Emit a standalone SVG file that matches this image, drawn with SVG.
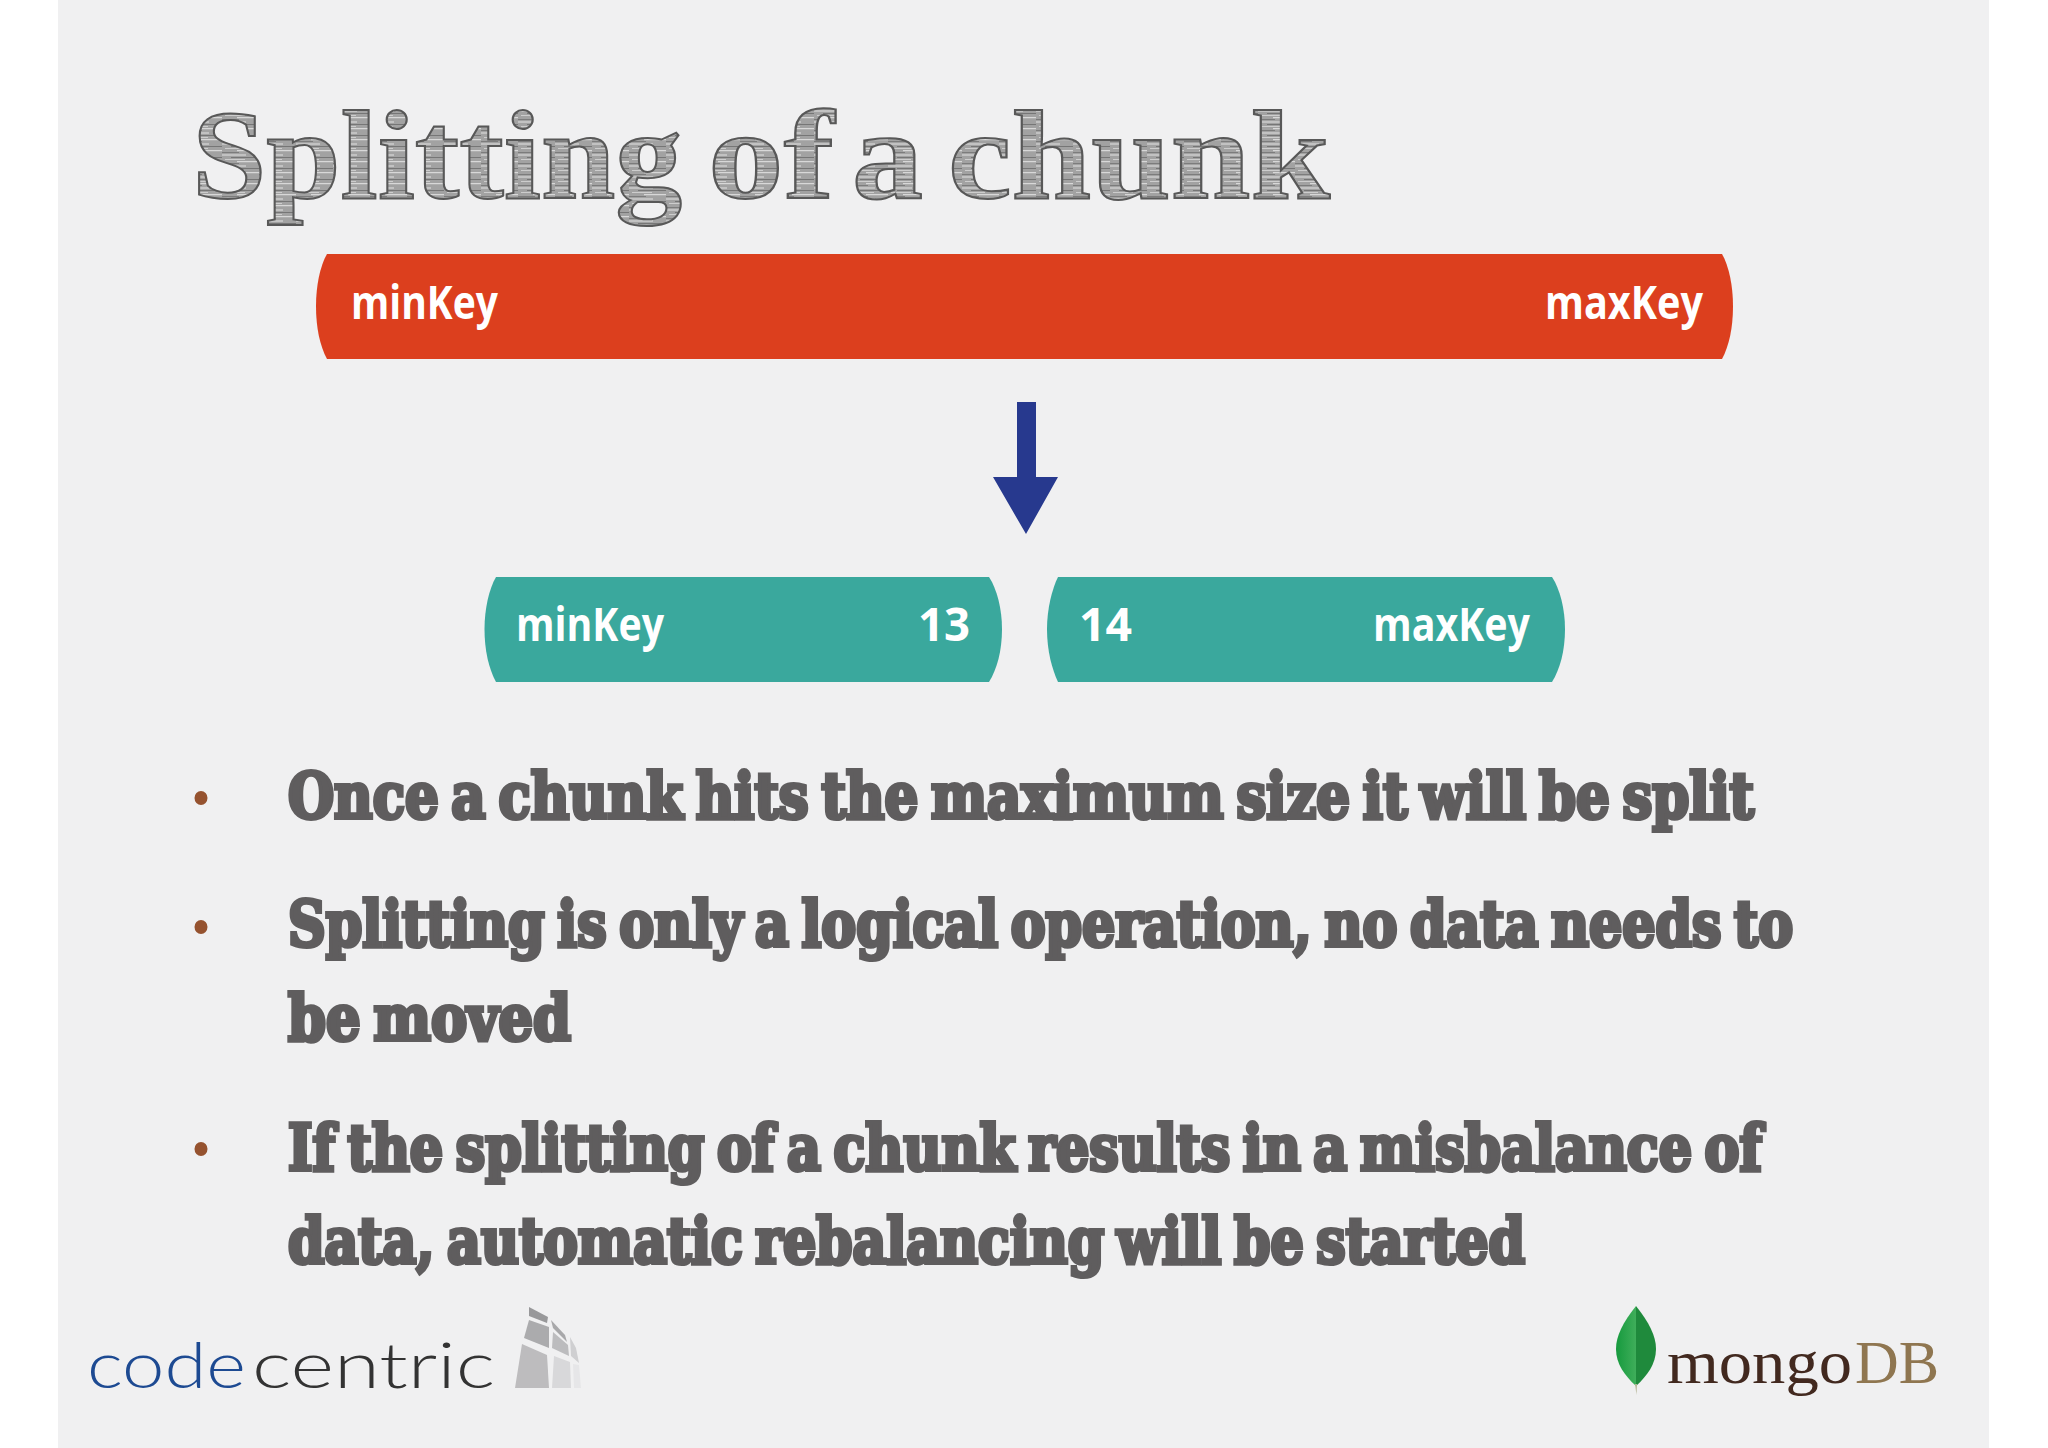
<svg xmlns="http://www.w3.org/2000/svg" width="2048" height="1448" viewBox="0 0 2048 1448">
<defs>
<pattern id="hatch" width="37" height="11" patternUnits="userSpaceOnUse">
<rect width="37" height="11" fill="#a2a2a2"/>
<rect x="0" y="0.500" width="24" height="1" fill="#e2e2e2"/>
<rect x="9" y="3" width="28" height="1" fill="#767676"/>
<rect x="3" y="5" width="20" height="0.800" fill="#d8d8d8"/>
<rect x="15" y="7.200" width="22" height="1" fill="#e6e6e6"/>
<rect x="0" y="9" width="17" height="1" fill="#7c7c7c"/>
</pattern>
<linearGradient id="leafL" x1="0" y1="0" x2="1" y2="0"><stop offset="0" stop-color="#169a3e"/><stop offset="1" stop-color="#3fae5a"/></linearGradient>
</defs>
<style>
.title{font-family:"Liberation Serif","DejaVu Serif",serif;font-weight:700;font-size:128px;fill:url(#hatch);stroke:#585858;stroke-width:2px}
.body{font-family:"DejaVu Serif Condensed","DejaVu Serif",serif;font-weight:700;font-size:63px;word-spacing:-6px;fill:#5f5d5e;stroke:#5f5d5e;stroke-width:4px}
.key{font-family:"Open Sans","Noto Sans",sans-serif;font-weight:700;font-size:46px;fill:#ffffff}
.red{fill:#dc3f1e}.teal{fill:#3aa89d}
.bullet{fill:#95522f}
.cc{font-family:"Lato","Open Sans",sans-serif;font-weight:300;font-size:63px}
.mg{font-family:"Liberation Serif",serif;font-size:62px}
</style>
<rect width="2048" height="1448" fill="#ffffff"/>
<rect x="58" y="0" width="1931" height="1448" fill="#f0f0f1"/>
<text class="title" y="198"><tspan x="192" textLength="490" lengthAdjust="spacingAndGlyphs">Splitting</tspan> <tspan x="708" textLength="126" lengthAdjust="spacingAndGlyphs">of</tspan> <tspan x="852" textLength="71" lengthAdjust="spacingAndGlyphs">a</tspan> <tspan x="948" textLength="382" lengthAdjust="spacingAndGlyphs">chunk</tspan></text>
<g id="chunk-full">
<path class="red" d="M327 254H1722C1729 266 1733 286 1733 306C1733 328 1729 346 1722 359H327C320 346 316 328 316 306C316 286 320 266 327 254Z"/>
<text class="key" x="351" y="319" textLength="147" lengthAdjust="spacingAndGlyphs">minKey</text>
<text class="key" x="1545" y="319" textLength="158" lengthAdjust="spacingAndGlyphs">maxKey</text>
</g>
<g id="chunk-left">
<path class="teal" d="M496 577H989C997 589 1002 609 1002 629C1002 651 997 669 989 682H496C489 669 484.500 651 484.500 629C484.500 609 489 589 496 577Z"/>
<text class="key" x="516" y="641" textLength="148" lengthAdjust="spacingAndGlyphs">minKey</text>
<text class="key" x="918" y="641" textLength="52" lengthAdjust="spacingAndGlyphs">13</text>
</g>
<g id="chunk-right">
<path class="teal" d="M1058 577H1552C1560 589 1565 609 1565 629C1565 651 1560 669 1552 682H1058C1052 669 1047 651 1047 629C1047 609 1052 589 1058 577Z"/>
<text class="key" x="1079" y="641" textLength="53" lengthAdjust="spacingAndGlyphs">14</text>
<text class="key" x="1373" y="641" textLength="157" lengthAdjust="spacingAndGlyphs">maxKey</text>
</g>
<g id="connectors">
<path d="M1017 402H1036V477H1058L1026 534L993 477H1017Z" fill="#27398e"/>
</g>
<g id="bullets">
<ellipse class="bullet" cx="201" cy="798" rx="6.500" ry="7"/>
<ellipse class="bullet" cx="201" cy="927" rx="6.500" ry="7"/>
<ellipse class="bullet" cx="201" cy="1149" rx="6.500" ry="7"/>
<text class="body" x="288" y="818" textLength="1466" lengthAdjust="spacingAndGlyphs">Once a chunk hits the maximum size it will be split</text>
<text class="body" x="288" y="946" textLength="1505" lengthAdjust="spacingAndGlyphs">Splitting is only a logical operation, no data needs to</text>
<text class="body" x="288" y="1040" textLength="283" lengthAdjust="spacingAndGlyphs">be moved</text>
<text class="body" x="288" y="1170" textLength="1474" lengthAdjust="spacingAndGlyphs">If the splitting of a chunk results in a misbalance of</text>
<text class="body" x="288" y="1263" textLength="1237" lengthAdjust="spacingAndGlyphs">data, automatic rebalancing will be started</text>
</g>
<g id="logo-codecentric">
<text class="cc" x="87" y="1388" fill="#1d4a92" textLength="159" lengthAdjust="spacingAndGlyphs">code</text>
<text class="cc" x="252" y="1388" fill="#333333" textLength="243" lengthAdjust="spacingAndGlyphs">centric</text>
<path d="M522 1344L547 1355L549 1388H515Z" fill="#bdbcbe"/>
<path d="M554 1356L570 1362L571 1388H552Z" fill="#d8d8da"/>
<path d="M573 1364L579 1365L581 1388L574 1388Z" fill="#e6e6e8"/>
<path d="M529 1320L549 1327V1348L524 1338Z" fill="#ababad"/>
<path d="M529 1307L548 1317L547 1323L529 1316Z" fill="#98989a"/>
<path d="M553 1332L568 1345L569 1356L552 1348Z" fill="#bcbcbe"/>
<path d="M551 1320L565 1335L567 1342L553 1328Z" fill="#a8a8aa"/>
<path d="M570 1337L576 1348L579 1363L571 1356Z" fill="#cfcfd1"/>
</g>
<g id="logo-mongodb">
<path d="M1636 1306C1623 1322 1616 1336 1616 1349C1616 1364 1625 1376 1636 1386Z" fill="url(#leafL)"/>
<path d="M1636 1306C1649 1322 1656 1336 1656 1349C1656 1364 1647 1376 1636 1386Z" fill="#1f8a3c"/>
<path d="M1635 1384H1637L1636.500 1395Z" fill="#b8b89a"/>
<text class="mg" x="1667" y="1383" fill="#42291f" textLength="185" lengthAdjust="spacingAndGlyphs">mongo</text>
<text class="mg" x="1855" y="1383" fill="#8f7650" textLength="84" lengthAdjust="spacingAndGlyphs">DB</text>
</g>
</svg>
